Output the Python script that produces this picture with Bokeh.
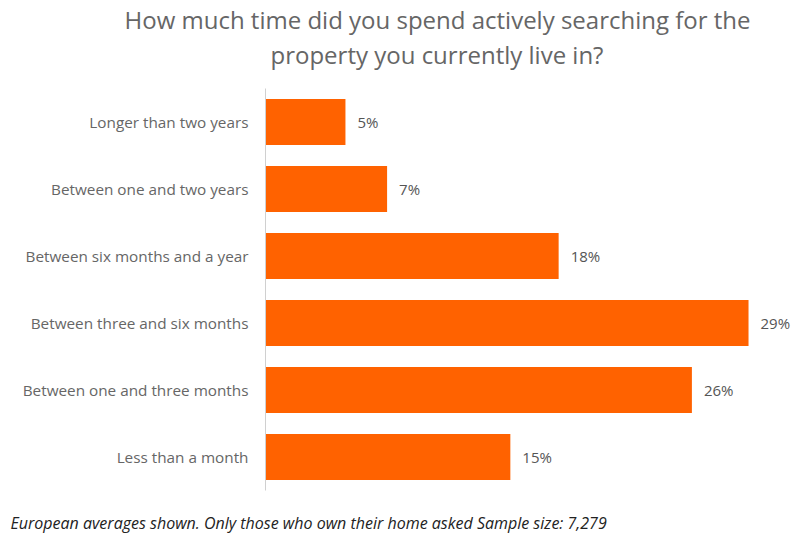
from bokeh.plotting import figure
from bokeh.models import FactorRange, Range1d, ColumnDataSource, Title
from bokeh.core.properties import value
from bokeh.embed import file_html
from bokeh.resources import INLINE

categories = [
    "Longer than two years",
    "Between one and two years",
    "Between six months and a year",
    "Between three and six months",
    "Between one and three months",
    "Less than a month",
]
values = [4.8, 7.3, 17.6, 29.0, 25.6, 14.7]
value_labels = ["5%", "7%", "18%", "29%", "26%", "15%"]

title_lines = [
    "How much time did you spend actively searching for the",
    "property you currently live in?",
]
footnote = "European averages shown. Only those who own their home asked Sample size: 7,279"

FONT = "Open Sans"
ORANGE = "#FF6200"

src = ColumnDataSource(dict(cat=categories, val=values, lab=value_labels))

p = figure(
    width=793, height=533,
    y_range=FactorRange(factors=list(reversed(categories))),
    x_range=Range1d(0, 31.7),
    output_backend="svg", toolbar_location=None,
    min_border_left=265, min_border_right=0,
    min_border_top=0, min_border_bottom=0,
)
p.outline_line_color = None
p.background_fill_color = "white"
p.border_fill_color = "white"
p.xgrid.grid_line_color = None
p.ygrid.grid_line_color = None
p.xaxis.visible = False

ya = p.yaxis[0]
ya.axis_line_color = "#d0d0d0"
ya.axis_line_width = 1
ya.major_tick_line_color = None
ya.minor_tick_line_color = None
ya.major_label_text_font = FONT
ya.major_label_text_font_size = "15.3px"
ya.major_label_text_color = "#666666"
ya.major_label_standoff = 11

p.hbar(y="cat", right="val", left=0, height=0.69, source=src,
       fill_color=ORANGE, line_color=None)

p.text(x="val", y="cat", text="lab", source=src, x_offset=12,
       text_align="left", text_baseline="middle",
       text_font=value(FONT), text_font_size="15px", text_color="#555555")

# spacer between frame and title (closest to frame)
p.add_layout(Title(text=" ", text_font_size="14px", standoff=0), "above")
offsets = [-141, 5]
for line, off in reversed(list(zip(title_lines, offsets))):
    p.add_layout(Title(text=line, align="left", offset=off,
                       text_font=FONT, text_font_size="24px",
                       text_font_style="normal", text_color="#666666",
                       standoff=0), "above")

# spacer between frame and footnote
p.add_layout(Title(text=" ", text_font_size="16px", standoff=0), "below")
p.add_layout(Title(text=footnote, align="left", offset=-255,
                   text_font=FONT, text_font_size="16px",
                   text_font_style="italic", text_color="#222222",
                   standoff=0), "below")

open("out.html", "w").write(file_html(p, INLINE))
